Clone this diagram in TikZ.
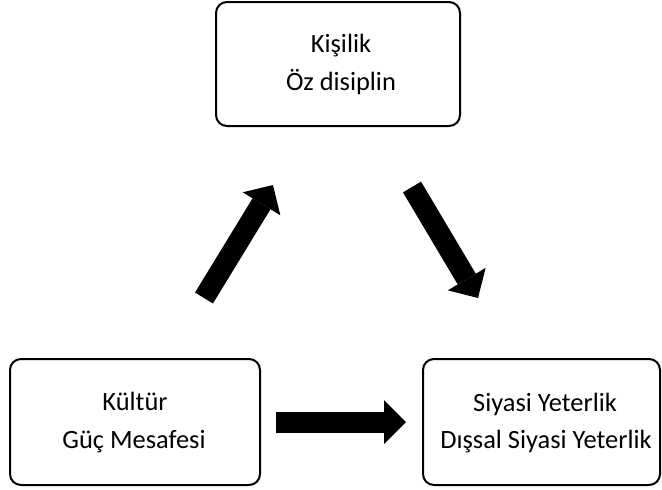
\documentclass[tikz,border=0pt]{standalone}
\usepackage{fontspec}
\setmainfont{Carlito}
\usetikzlibrary{arrows.meta}
\begin{document}
\begin{tikzpicture}[x=1pt,y=-1pt,
  box/.style={draw=black, line width=2pt, rounded corners=11pt, fill=white},
  lbl/.style={anchor=base, inner sep=0pt, font=\fontsize{26.4}{30}\selectfont},
  blockarrow/.style={line width=21pt, draw=black,
    -{Triangle[length=22pt,width=44pt,line width=0pt]}}]
\useasboundingbox (0,0) rectangle (662,490);
% boxes
\draw[box] (216,2) rectangle (460,126);
\node[inner sep=0pt] (top) at (338,64) {};
\draw[box] (10,359) rectangle (260,485);
\node[inner sep=0pt] (left) at (135,422) {};
\draw[box] (423,359) rectangle (660,485);
\node[inner sep=0pt] (right) at (541,422) {};
% labels
\node[lbl] (t1) at (341,52) {Kişilik};
\node[lbl] (t2) at (341,90) {Öz disiplin};
\node[lbl] (l1) at (135,410) {Kültür};
\node[lbl] (l2) at (134,448) {Güç Mesafesi};
\node[lbl] (r1) at (545,411) {Siyasi Yeterlik};
\node[lbl] (r2) at (546,448) {Dışsal Siyasi Yeterlik};
% arrow end points
\coordinate (a1s) at (204,298);
\coordinate (a1e) at (273,185);
\coordinate (a2s) at (412,187);
\coordinate (a2e) at (478,298);
\coordinate (a3s) at (276,422);
\coordinate (a3e) at (406,422);
\draw[blockarrow] (a1s) -- (a1e);
\draw[blockarrow] (a2s) -- (a2e);
\draw[blockarrow] (a3s) -- (a3e);
\end{tikzpicture}
\end{document}
